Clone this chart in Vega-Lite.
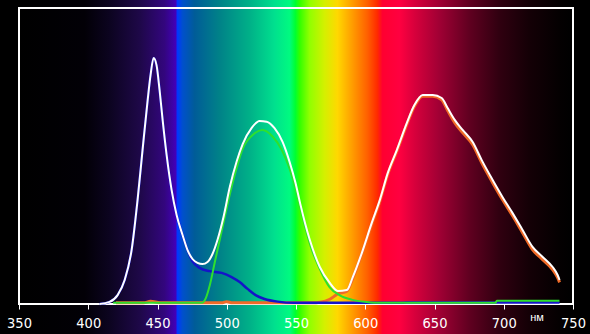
{
  "$schema": "https://vega.github.io/schema/vega-lite/v6.json",
  "width": 554,
  "height": 296,
  "autosize": {"type": "none"},
  "padding": {"left": 19, "top": 8, "right": 17, "bottom": 30},
  "background": "#000000",
  "config": {"view": {"stroke": null}},
  "datasets": {
    "band": [{"a": 350, "b": 750, "lo": -10.3, "hi": 102.9}],
    "frame": [{"a": 350, "b": 750, "lo": 0, "hi": 100}],
    "unit": [{"label": "нм", "nm": 724, "v": -4.7}],
    "white": [
      {"nm": 408.2, "v": 0}, {"nm": 415.4, "v": 0.7}, {"nm": 421.2, "v": 3.0}, {"nm": 426.3, "v": 8.1},
      {"nm": 431.3, "v": 18.2}, {"nm": 435.6, "v": 35.1}, {"nm": 439.2, "v": 52.0}, {"nm": 442.9, "v": 68.9},
      {"nm": 445.0, "v": 77.4}, {"nm": 447.2, "v": 83.1}, {"nm": 449.3, "v": 80.7}, {"nm": 451.5, "v": 72.3},
      {"nm": 453.7, "v": 62.2}, {"nm": 456.6, "v": 50.3}, {"nm": 460.2, "v": 38.5}, {"nm": 463.8, "v": 30.1},
      {"nm": 468.1, "v": 23.3}, {"nm": 471.7, "v": 18.2}, {"nm": 475.3, "v": 15.2}, {"nm": 478.9, "v": 13.9},
      {"nm": 482.5, "v": 13.5}, {"nm": 486.1, "v": 14.2}, {"nm": 489.7, "v": 16.9}, {"nm": 493.4, "v": 21.8},
      {"nm": 497.7, "v": 29.5}, {"nm": 502.2, "v": 39.5}, {"nm": 507.2, "v": 48.2}, {"nm": 511.5, "v": 54.0},
      {"nm": 518.0, "v": 59.5}, {"nm": 523.7, "v": 61.8}, {"nm": 528.8, "v": 61.6}, {"nm": 534.5, "v": 59.4},
      {"nm": 540.3, "v": 54.8}, {"nm": 545.4, "v": 48.0}, {"nm": 549.7, "v": 40.8}, {"nm": 553.0, "v": 34.0},
      {"nm": 556.5, "v": 27.4}, {"nm": 560.0, "v": 21.6}, {"nm": 567.2, "v": 12.5}, {"nm": 574.4, "v": 7.1},
      {"nm": 580.2, "v": 4.4},
      {"nm": 586.7, "v": 4.7}, {"nm": 591.0, "v": 9.1}, {"nm": 597.5, "v": 17.2}, {"nm": 604.7, "v": 27.4},
      {"nm": 610.5, "v": 35.1}, {"nm": 616.3, "v": 44.3}, {"nm": 622.8, "v": 52.0}, {"nm": 630.0, "v": 61.1},
      {"nm": 635.5, "v": 67.2}, {"nm": 641.5, "v": 70.6}, {"nm": 648.7, "v": 70.6}, {"nm": 655.2, "v": 69.6},
      {"nm": 659.5, "v": 66.2}, {"nm": 664.6, "v": 62.2}, {"nm": 670.3, "v": 58.8}, {"nm": 677.6, "v": 54.7},
      {"nm": 684.1, "v": 48.6}, {"nm": 692.0, "v": 41.9}, {"nm": 699.2, "v": 36.1}, {"nm": 706.4, "v": 30.7},
      {"nm": 713.6, "v": 25.0}, {"nm": 720.8, "v": 19.3}, {"nm": 728.1, "v": 15.9}, {"nm": 735.3, "v": 12.5},
      {"nm": 738.9, "v": 9.8}, {"nm": 740.3, "v": 8.1}
    ],
    "red": [
      {"nm": 420, "v": 0.4}, {"nm": 440, "v": 0.4}, {"nm": 445, "v": 0.9}, {"nm": 452, "v": 0.4},
      {"nm": 497, "v": 0.4}, {"nm": 500, "v": 0.8}, {"nm": 504, "v": 0.4}, {"nm": 562, "v": 0.4},
      {"nm": 567.2, "v": 0.6}, {"nm": 574.4, "v": 1.6}, {"nm": 580.2, "v": 3.4}, {"nm": 586.7, "v": 4.3},
      {"nm": 591.0, "v": 8.6}, {"nm": 597.5, "v": 16.8}, {"nm": 604.7, "v": 27.0}, {"nm": 610.5, "v": 34.7},
      {"nm": 616.3, "v": 43.9}, {"nm": 622.8, "v": 51.6}, {"nm": 630.0, "v": 60.7}, {"nm": 635.5, "v": 66.8},
      {"nm": 641.5, "v": 70.2}, {"nm": 648.7, "v": 70.2}, {"nm": 655.2, "v": 69.0}, {"nm": 659.5, "v": 65.4},
      {"nm": 664.6, "v": 61.3}, {"nm": 670.3, "v": 57.9}, {"nm": 677.6, "v": 53.8}, {"nm": 684.1, "v": 47.7},
      {"nm": 692.0, "v": 41.0}, {"nm": 699.2, "v": 35.2}, {"nm": 706.4, "v": 29.8}, {"nm": 713.6, "v": 24.1},
      {"nm": 720.8, "v": 18.4}, {"nm": 728.1, "v": 15.0}, {"nm": 735.3, "v": 11.6}, {"nm": 738.9, "v": 8.9},
      {"nm": 740.3, "v": 7.3}
    ],
    "blue": [
      {"nm": 408.2, "v": 0}, {"nm": 415.4, "v": 0.7}, {"nm": 421.2, "v": 3.0}, {"nm": 426.3, "v": 8.1},
      {"nm": 431.3, "v": 18.2}, {"nm": 435.6, "v": 35.1}, {"nm": 439.2, "v": 52.0}, {"nm": 442.9, "v": 68.9},
      {"nm": 445.0, "v": 77.4}, {"nm": 447.2, "v": 83.1}, {"nm": 449.3, "v": 80.7}, {"nm": 451.5, "v": 72.3},
      {"nm": 453.7, "v": 62.2}, {"nm": 456.6, "v": 50.3}, {"nm": 460.2, "v": 38.5}, {"nm": 463.8, "v": 30.1},
      {"nm": 468.1, "v": 23.3}, {"nm": 471.7, "v": 18.2}, {"nm": 475.3, "v": 14.4}, {"nm": 480.4, "v": 12.2},
      {"nm": 487.6, "v": 11.1}, {"nm": 496.3, "v": 10.5}, {"nm": 503.5, "v": 9.1}, {"nm": 509.3, "v": 7.4},
      {"nm": 515.0, "v": 5.1}, {"nm": 520.8, "v": 3.0}, {"nm": 527.3, "v": 1.7}, {"nm": 536.7, "v": 0.8},
      {"nm": 549.0, "v": 0.4}, {"nm": 624.7, "v": 0.4}, {"nm": 630.0, "v": 0.5}, {"nm": 740.3, "v": 0.5}
    ],
    "green": [
      {"nm": 418.0, "v": 0.4}, {"nm": 482.0, "v": 0.4}, {"nm": 484.9, "v": 2.0}, {"nm": 487.8, "v": 6.4},
      {"nm": 491.4, "v": 14.2}, {"nm": 496.5, "v": 25.0}, {"nm": 502.2, "v": 37.0}, {"nm": 507.2, "v": 46.0},
      {"nm": 511.5, "v": 52.4}, {"nm": 518.7, "v": 57.1}, {"nm": 525.9, "v": 58.8}, {"nm": 533.1, "v": 56.6},
      {"nm": 539.6, "v": 52.2}, {"nm": 545.4, "v": 45.6}, {"nm": 549.7, "v": 39.0}, {"nm": 553.0, "v": 32.6},
      {"nm": 556.5, "v": 26.2}, {"nm": 559.8, "v": 20.6}, {"nm": 567.0, "v": 12.0}, {"nm": 574.2, "v": 5.7},
      {"nm": 581.4, "v": 3.0}, {"nm": 590.8, "v": 1.4}, {"nm": 600.9, "v": 0.7}, {"nm": 610.2, "v": 0.4},
      {"nm": 694.0, "v": 0.4}, {"nm": 695.0, "v": 1.1}, {"nm": 740.2, "v": 1.1}
    ]
  },
  "layer": [
    {
      "data": {"name": "band"},
      "mark": {
        "type": "rect",
        "fill": {
          "gradient": "linear", "x1": 0, "y1": 0, "x2": 1, "y2": 0,
          "stops": [
            {"offset": 0, "color": "#000000"},
            {"offset": 0.1185, "color": "#020006"},
            {"offset": 0.1636, "color": "#0c0420"},
            {"offset": 0.2177, "color": "#1e0848"},
            {"offset": 0.2628, "color": "#33067e"},
            {"offset": 0.2826, "color": "#4200b8"},
            {"offset": 0.2862, "color": "#0038ff"},
            {"offset": 0.2953, "color": "#0050cc"},
            {"offset": 0.3169, "color": "#005c98"},
            {"offset": 0.3620, "color": "#008288"},
            {"offset": 0.4161, "color": "#00b088"},
            {"offset": 0.4612, "color": "#00e08e"},
            {"offset": 0.4882, "color": "#00fa80"},
            {"offset": 0.4990, "color": "#00ff30"},
            {"offset": 0.5063, "color": "#30ff00"},
            {"offset": 0.5243, "color": "#90ff00"},
            {"offset": 0.5514, "color": "#d4f000"},
            {"offset": 0.5748, "color": "#ffd800"},
            {"offset": 0.6001, "color": "#ffa000"},
            {"offset": 0.6289, "color": "#ff6000"},
            {"offset": 0.6470, "color": "#ff2a00"},
            {"offset": 0.6560, "color": "#ff0030"},
            {"offset": 0.6867, "color": "#ff0040"},
            {"offset": 0.7137, "color": "#d8003c"},
            {"offset": 0.7588, "color": "#a00034"},
            {"offset": 0.8129, "color": "#600020"},
            {"offset": 0.8670, "color": "#300010"},
            {"offset": 0.9211, "color": "#140006"},
            {"offset": 0.9752, "color": "#040001"},
            {"offset": 1, "color": "#000000"}
          ]
        }
      },
      "encoding": {
        "x": {"field": "a", "type": "quantitative", "scale": {"domain": [350, 750], "nice": false, "zero": false},
              "axis": {"values": [350, 400, 450, 500, 550, 600, 650, 700, 750], "domain": false, "grid": false,
                       "tickColor": "#ffffff", "tickSize": 5, "tickWidth": 1, "labelColor": "#ffffff",
                       "labelFont": "Liberation Sans Narrow, DejaVu Sans Condensed, sans-serif", "labelFontSize": 14.5,
                       "labelPadding": 7, "labelFlush": false, "labelOverlap": false, "title": null, "zindex": 1}},
        "x2": {"field": "b"},
        "y": {"field": "lo", "type": "quantitative", "scale": {"domain": [0, 100], "nice": false, "zero": false}, "axis": null},
        "y2": {"field": "hi"}
      }
    },
    {
      "data": {"name": "frame"},
      "mark": {"type": "rect", "fill": null, "stroke": "#ffffff", "strokeWidth": 2},
      "encoding": {
        "x": {"field": "a", "type": "quantitative"},
        "x2": {"field": "b"},
        "y": {"field": "lo", "type": "quantitative"},
        "y2": {"field": "hi"}
      }
    },
    {
      "data": {"name": "red"},
      "mark": {"type": "line", "stroke": "#f06a28", "strokeWidth": 3, "interpolate": "monotone"},
      "encoding": {"x": {"field": "nm", "type": "quantitative"}, "y": {"field": "v", "type": "quantitative"}}
    },
    {
      "data": {"name": "blue"},
      "mark": {"type": "line", "stroke": "#1414c8", "strokeWidth": 2.5, "interpolate": "monotone"},
      "encoding": {"x": {"field": "nm", "type": "quantitative"}, "y": {"field": "v", "type": "quantitative"}}
    },
    {
      "data": {"name": "green"},
      "mark": {"type": "line", "stroke": "#2ee02e", "strokeWidth": 2, "interpolate": "monotone"},
      "encoding": {"x": {"field": "nm", "type": "quantitative"}, "y": {"field": "v", "type": "quantitative"}}
    },
    {
      "data": {"name": "white"},
      "mark": {"type": "line", "stroke": "#ffffff", "strokeWidth": 2, "interpolate": "monotone"},
      "encoding": {"x": {"field": "nm", "type": "quantitative"}, "y": {"field": "v", "type": "quantitative"}}
    },
    {
      "data": {"name": "unit"},
      "mark": {"type": "text", "color": "#ffffff", "font": "Liberation Sans, sans-serif", "fontSize": 11, "baseline": "middle", "align": "center"},
      "encoding": {"x": {"field": "nm", "type": "quantitative"}, "y": {"field": "v", "type": "quantitative"}, "text": {"field": "label"}}
    }
  ]
}
